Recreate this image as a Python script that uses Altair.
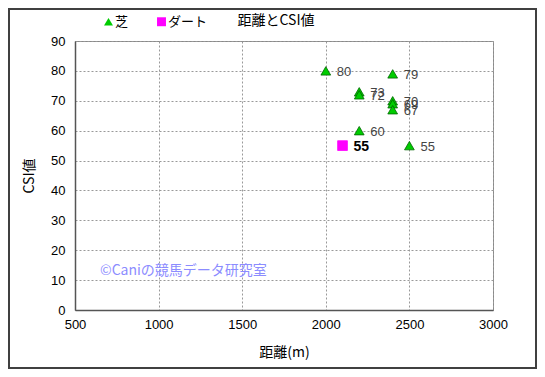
import altair as alt
import pandas as pd

types = ["芝"] * 9 + ["ダート"]
distance = [2000, 2400, 2200, 2200, 2400, 2400, 2400, 2200, 2500, 2100]
csi = [80, 79, 73, 72, 70, 69, 67, 60, 55, 55]
x_ticks = [500, 1000, 1500, 2000, 2500, 3000]
y_ticks = [0, 10, 20, 30, 40, 50, 60, 70, 80, 90]

df = pd.DataFrame({"種別": types, "距離": distance, "CSI": csi})

W, H = 418, 269
PL, PT, PR, PB = 67, 33, 44, 59
JP = "Noto Sans CJK JP"

xs = alt.Scale(domain=[500, 3000], nice=False)
ys = alt.Scale(domain=[0, 90], nice=False)

xaxis = alt.Axis(values=x_ticks, title="距離(m)", format="d",
                 titleFont=JP, titleFontWeight="normal", titleFontSize=14,
                 titlePadding=14, labelFontSize=13, labelColor="black",
                 labelFont="Liberation Sans", ticks=False, labelPadding=8,
                 gridDash=[2, 2], gridColor="#999999", domainColor="#555555",
                 labelFlush=False, labelOverlap=False)
yaxis = alt.Axis(values=y_ticks, title="CSI値", format="d",
                 titleFont=JP, titleFontWeight="normal", titleFontSize=14,
                 titlePadding=14, labelFontSize=13, labelColor="black",
                 labelFont="Liberation Sans", ticks=False, labelPadding=10,
                 gridDash=[2, 2], gridColor="#999999", domainColor="#555555",
                 labelOverlap=False, labelFlush=False)

X = alt.X("距離:Q", scale=xs, axis=xaxis)
Y = alt.Y("CSI:Q", scale=ys, axis=yaxis)

base = alt.Chart(df)

leg = alt.Legend(orient="none", legendX=27, legendY=-26, direction="horizontal",
                 title=None, labelFont=JP, labelFontSize=13, symbolSize=80,
                 columnPadding=26, labelOffset=0, symbolStrokeWidth=0)

points = base.mark_point(filled=True, opacity=1, size=95, strokeWidth=0.8).encode(
    x=X, y=Y,
    shape=alt.Shape("種別:N", scale=alt.Scale(domain=["芝", "ダート"], range=["triangle-up", "square"]),
                    legend=leg),
    color=alt.Color("種別:N", scale=alt.Scale(domain=["芝", "ダート"], range=["#00cc00", "#ff00ff"]),
                    legend=leg),
    stroke=alt.Stroke("種別:N", scale=alt.Scale(domain=["芝", "ダート"], range=["#006600", "#ff00ff"]), legend=None),
)

labels_shiba = base.transform_filter(alt.datum["種別"] == "芝").mark_text(
    align="left", dx=11, dy=1, fontSize=13, color="#444444", font="Liberation Sans"
).encode(x=X, y=Y, text="CSI:Q")

labels_dirt = base.transform_filter(alt.datum["種別"] == "ダート").mark_text(
    align="left", dx=11, dy=1, fontSize=14, color="black", fontWeight="bold", font="Liberation Sans"
).encode(x=X, y=Y, text="CSI:Q")

title = alt.Chart(pd.DataFrame({"t": ["距離とCSI値"]})).mark_text(
    font=JP, fontSize=14, color="black", align="center", baseline="middle"
).encode(x=alt.value(201), y=alt.value(-20), text="t:N")

watermark = alt.Chart(pd.DataFrame({"t": ["©Caniの競馬データ研究室"]})).mark_text(
    font=JP, fontSize=14, color="#8c8cff", align="left", baseline="middle"
).encode(x=alt.value(25), y=alt.value(230), text="t:N")

frame = alt.Chart(pd.DataFrame({"a": [0]})).mark_rect(
    fill=None, stroke="#404040", strokeWidth=2, clip=False
).encode(x=alt.value(-PL + 1), x2=alt.value(W + PR - 1), y=alt.value(-PT + 1), y2=alt.value(H + PB - 1))

chart = alt.layer(points, labels_shiba, labels_dirt, title, watermark, frame).properties(
    width=W, height=H, autosize=alt.AutoSizeParams(type="none"),
    padding={"left": PL, "top": PT, "right": PR, "bottom": PB},
    background="white"
).configure_view(stroke="#888888", strokeWidth=1).configure_axis(domainWidth=1.5)

chart.save("out.html", embed_options={"renderer": "svg", "actions": False})
